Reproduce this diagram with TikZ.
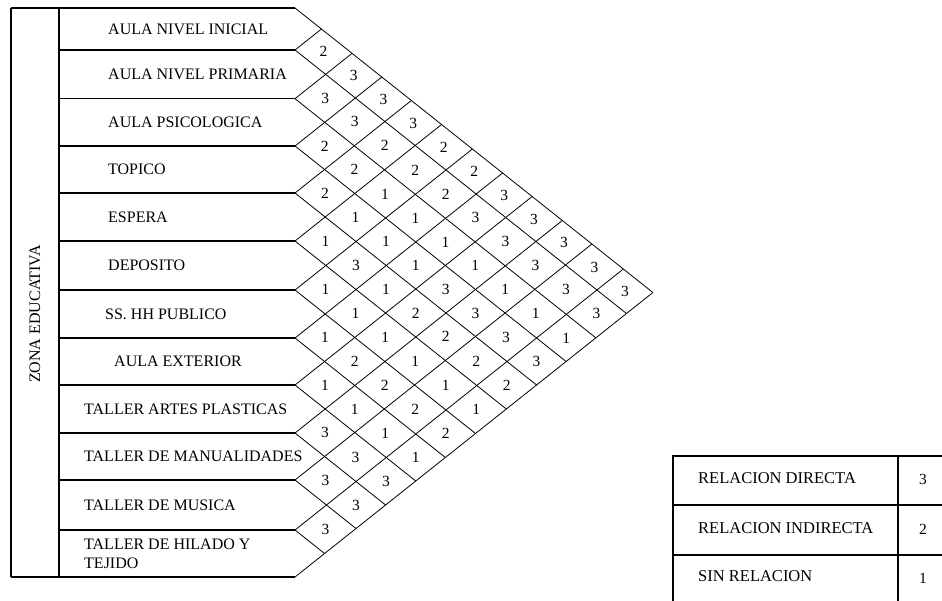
\documentclass[tikz,border=0pt]{standalone}
\usepackage{fontspec}
\setmainfont{Liberation Serif}
\usetikzlibrary{positioning}

\begin{document}
\begin{tikzpicture}[x=1pt,y=-1pt,
    tabline/.style={line width=1.2pt},
    gridline/.style={line width=0.8pt},
    rowlabel/.style={anchor=west,inner sep=0pt,align=left,
      font=\fontsize{16}{19}\selectfont},
    relval/.style={inner sep=0pt,font=\fontsize{15.5}{17}\selectfont},
    keytext/.style={anchor=west,inner sep=0pt,font=\fontsize{16.5}{19}\selectfont}]
  \clip (0,0) rectangle (942,600);
  % row boundaries, row centres and slope factor of the diagonals
  \def\bnd{{8,50,98.7,146,193,241,290,338,385,433,480,530,577}}
  \def\mid{{0,29,74.35,122.35,169.5,217,265.5,314,361.5,409,456.5,505,553.5}}
  \def\kx{0.629}
  \foreach \k in {0,...,12}{
    \pgfmathsetmacro\yk{\bnd[\k]}
    \pgfmathsetmacro\xd{295+(577-\yk)*\kx}
    \pgfmathsetmacro\yd{(577+\yk)/2}
    \pgfmathsetmacro\xu{295+(\yk-8)*\kx}
    \pgfmathsetmacro\yu{(\yk+8)/2}
    \coordinate (b\k) at (295,\yk);
    \coordinate (l\k) at (59,\yk);
    \coordinate (d\k) at (\xd,\yd);
    \coordinate (u\k) at (\xu,\yu);
  }
  % table of spaces
  \draw[tabline] (11,8) -- (b0);
  \draw[tabline] (11,577) -- (b12);
  \draw[tabline] (11,8) -- (11,577);
  \draw[tabline] (l0) -- (l12);
  \foreach \k in {1,...,11}
    \draw[tabline] (l\k) -- (b\k);
  \foreach \k in {0,...,11}
    \draw[gridline] (b\k) -- (d\k);
  \foreach \k in {1,...,12}
    \draw[gridline] (b\k) -- (u\k);
  \node[rotate=90,inner sep=0pt,font=\fontsize{16}{19}\selectfont] (zona) at (35,314) {ZONA EDUCATIVA};
  % names of the spaces
  \foreach \x/\t [count=\i] in {108/AULA NIVEL INICIAL,108/AULA NIVEL PRIMARIA,
      108/AULA PSICOLOGICA,108/TOPICO,108/ESPERA,108/DEPOSITO,
      105/SS. HH PUBLICO,114/AULA EXTERIOR,84/TALLER ARTES PLASTICAS,
      84/TALLER DE MANUALIDADES,84/TALLER DE MUSICA,
      84/{TALLER DE HILADO Y\\TEJIDO}}{
    \pgfmathsetmacro\yc{\mid[\i]}
    \node[rowlabel] (r\i) at (\x,\yc) {\t};
  }
  % relations, one list per row
  \foreach \vals [count=\i] in {{2,3,3,3,2,2,3,3,3,3,3},{3,3,2,2,2,3,3,3,3,3},
      {2,2,1,1,1,1,1,1,1},{2,1,1,1,3,3,3,3},{1,3,1,2,2,2,2},{1,1,1,1,1,1},
      {1,2,2,2,2},{1,1,1,1},{3,3,3},{3,3},{3}}{
    \foreach \v [count=\d] in \vals {
      \pgfmathtruncatemacro\j{\i+\d}
      \pgfmathsetmacro\ci{\mid[\i]}
      \pgfmathsetmacro\cj{\mid[\j]}
      \node[relval] (v\i-\j) at ({295+(\cj-\ci)*\kx},{(\ci+\cj)/2}) {\v};
    }
  }
  % key
  \draw[tabline] (673,456) rectangle (975,604);
  \draw[tabline] (673,505) -- (975,505);
  \draw[tabline] (673,555) -- (975,555);
  \draw[tabline] (898,456) -- (898,604);
  \node[keytext] (k3) at (698,478) {RELACION DIRECTA};
  \node[keytext] (k2) at (698,528) {RELACION INDIRECTA};
  \node[keytext] (k1) at (698,576) {SIN RELACION};
  \node[relval] (n3) at (923,479) {3};
  \node[relval] (n2) at (923,529) {2};
  \node[relval] (n1) at (923,578) {1};
\end{tikzpicture}
\end{document}
